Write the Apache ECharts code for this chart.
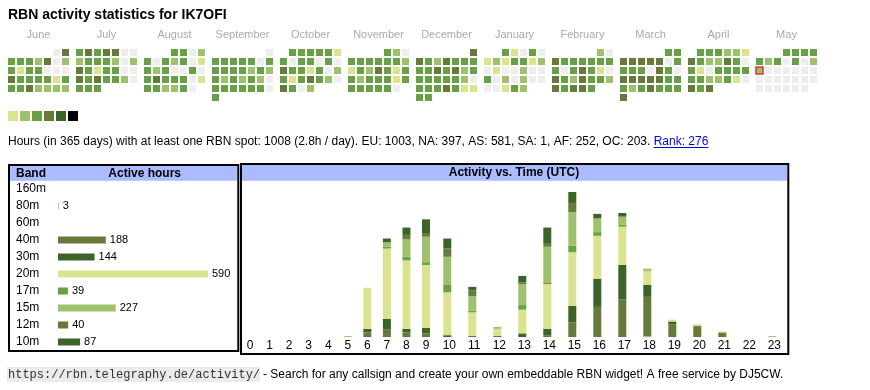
<!DOCTYPE html>
<html><head><meta charset="utf-8">
<script src="https://cdn.jsdelivr.net/npm/echarts@6/dist/echarts.min.js"></script>
<style>html,body{margin:0;padding:0;background:#fff}#c{width:870px;height:390px}</style>
</head><body><div id="c"></div>
<script>
// ---------- DATA ----------
const titleText = 'RBN activity statistics for IK7OFI';
const statsText = 'Hours (in 365 days) with at least one RBN spot: 1008 (2.8h / day). EU: 1003, NA: 397, AS: 581, SA: 1, AF: 252, OC: 203. ';
const rankText = 'Rank: 276';
const footerUrl = 'https://rbn.telegraphy.de/activity/';
const footerText = '- Search for any callsign and create your own embeddable RBN widget! A free service by DJ5CW.';

const monthNames = ['June','July','August','September','October','November','December','January','February','March','April','May'];
const monthKeys = ['2024-06','2024-07','2024-08','2024-09','2024-10','2024-11','2024-12','2025-01','2025-02','2025-03','2025-04','2025-05'];
const today = '2025-05-12';
// activity level per day (0 = none, 1..5 = increasing)
const jun2024 = [0,4, 3,3,3,2,4,0,2, 3,1,3,3,0,0,0, 4,3,3,3,3,1,3, 3,3,4,2,2,2,2];
const jul2024 = [3,4,3,4,4,0,0, 2,3,3,3,2,0,2, 4,3,1,3,3,0,0, 4,3,4,3,3,2,0, 3,3,3];
const aug2024 = [3,3,0,2, 3,0,3,2,3,0,1, 3,2,3,0,0,3,0, 3,4,3,3,3,0,1, 3,3,2,2,3,0];
const sep2024 = [0, 3,3,3,3,3,0,3, 3,3,3,3,2,3,2, 3,2,3,2,3,2,0, 3,3,3,3,3,3,0, 3];
const oct2024 = [3,3,3,3,3,1, 3,0,3,3,0,3,0, 4,3,3,1,3,0,2, 3,1,3,4,3,2,0, 4,3,0,2];
const nov2024 = [3,2,0, 3,3,3,3,3,3,2, 1,3,2,4,3,1,3, 3,2,3,3,3,1,3, 3,3,3,3,3,0];
const dec2024 = [4, 4,3,2,4,3,3,3, 3,3,4,3,4,2,3, 3,3,3,3,3,2,0, 3,3,3,4,3,1,1, 3,3];
const jan2025 = [3,1,0,3,0, 1,2,1,3,3,1,2, 0,1,0,0,2,0,0, 3,0,2,0,2,0,0, 0,0,1,3,2];
const feb2025 = [2,0, 4,3,3,3,3,3,3, 3,0,3,4,3,1,0, 4,3,2,4,3,3,2, 4,3,4,4,3];
const mar2025 = [3,3, 4,4,4,4,4,0,3, 3,3,3,0,4,3,0, 4,4,4,4,4,3,3, 3,2,3,4,3,3,3, 4];
const apr2025 = [3,3,3,2,2,1, 4,3,2,2,4,3,0, 3,1,0,3,3,3,3, 3,3,2,2,3,1,0, 4,3,4];
const may2025 = [3,3,3,3, 3,2,3,0,3,0,2, 2,0,0,0,0,0,0, 0,0,0,0,0,0,0, 0,0,0,0,0,0];
const monthData = [jun2024,jul2024,aug2024,sep2024,oct2024,nov2024,dec2024,jan2025,feb2025,mar2025,apr2025,may2025];
const levelValues = [1,2,3,4,5,6];

const bands = ['160m','80m','60m','40m','30m','20m','17m','15m','12m','10m'];
const activeHours = [0,3,0,188,144,590,39,227,40,87];

const hours = ['0','1','2','3','4','5','6','7','8','9','10','11','12','13','14','15','16','17','18','19','20','21','22','23'];
//               0 1 2 3 4 5 6  7  8  9  10 11 12 13 14 15 16 17 18 19 20 21 22 23
const h160m = [0,0,0,0,0,0,0, 0, 0, 0, 0, 0, 0, 0, 0, 0, 0, 0, 0, 0, 0, 0, 0, 0];
const h80m  = [0,0,0,0,0,1,0, 0, 0, 0, 0, 0, 0, 0, 0, 0, 0, 0, 1, 0, 0, 0, 0, 1];
const h60m  = [0,0,0,0,0,0,0, 0, 0, 0, 0, 0, 0, 0, 0, 0, 0, 0, 0, 0, 0, 0, 0, 0];
const h40m  = [0,0,0,0,0,0,5, 8, 5, 4, 0, 0, 0, 0, 2,16,33,41,43,14,12, 5, 0, 0];
const h30m  = [0,0,0,0,0,0,4,12, 4, 6, 2, 1, 1, 4, 7,18,31,38,13, 3, 0, 0, 0, 0];
const h20m  = [0,0,0,0,0,0,45,77,75,69,47,26, 8,26,49,59,47,42,15, 2, 2, 1, 0, 0];
const h17m  = [0,0,0,0,0,0,0, 2, 4, 3, 8, 2, 0, 5, 2, 7, 4, 2, 0, 0, 0, 0, 0, 0];
const h15m  = [0,0,0,0,0,0,0, 5,19,28,31,16, 2,23,39,37,15, 9, 3, 0, 0, 0, 0, 0];
const h12m  = [0,0,0,0,0,0,0, 0, 5, 4, 9, 6, 0, 2, 4,10, 0, 0, 0, 0, 0, 0, 0, 0];
const h10m  = [0,0,0,0,0,0,0, 4, 8,15,11, 4, 0, 7,17,12, 5, 4, 0, 0, 0, 0, 0, 0];
const hourlyByBand = [h160m,h80m,h60m,h40m,h30m,h20m,h17m,h15m,h12m,h10m];

// ---------- STYLE ----------
const FONT = '"Liberation Sans", Arial, sans-serif';
const levelColors = ['#dce38d','#9dc26b','#66a146','#667a39','#3b6528','#000000'];
const bandColors = ['#dce38d','#9dc26b','#66a146','#667a39','#3b6528','#dce38d','#66a146','#9dc26b','#667a39','#3b6528'];
const headerBlue = '#aabbff';

const chart = echarts.init(document.getElementById('c'), null, {renderer:'canvas'});

const calendars = monthKeys.map((k,i)=>({
  orient:'vertical', range:k, left:7+68*i, top:48, cellSize:[9,9],
  dayLabel:{show:false, firstDay:1}, monthLabel:{show:false}, yearLabel:{show:false},
  splitLine:{show:false}, itemStyle:{color:'rgba(0,0,0,0)', borderWidth:0, borderColor:'rgba(0,0,0,0)'}, silent:true
}));

const series = [];
const heatIdx = [];
monthData.forEach((arr,i)=>{
  heatIdx.push(series.length);
  series.push({type:'heatmap', coordinateSystem:'calendar', calendarIndex:i, silent:true,
    itemStyle:{borderColor:'#ffffff', borderWidth:2},
    data: arr.map((v,d)=>[monthKeys[i]+'-'+String(d+1).padStart(2,'0'), v])});
});
series.push({type:'scatter', coordinateSystem:'calendar', calendarIndex:11, silent:true, z:5,
  symbol:'rect', symbolSize:7, data:[[today,1]],
  itemStyle:{color:'rgba(0,0,0,0)', borderColor:'#e01010', borderWidth:1.5}});

// band table bars
series.push({type:'bar', xAxisIndex:0, yAxisIndex:0, silent:true, barWidth:7,
  data: activeHours.map((v,i)=>({value:v, itemStyle:{color:bandColors[i]}})),
  label:{show:true, position:'right', distance:4, fontSize:11, fontFamily:FONT, color:'#000',
    formatter:p=>p.value ? String(p.value) : ''}});

// activity stacked bars, split into two column-width groups
const totals = hours.map((_,h)=>hourlyByBand.reduce((s,a)=>s+a[h],0));
const yMax = Math.max(...totals);
hourlyByBand.forEach((arr,b)=>{
  series.push({type:'bar', name:bands[b], stack:'a', xAxisIndex:1, yAxisIndex:1, barWidth:8, silent:true,
    itemStyle:{color:bandColors[b]}, data:arr.slice(0,10)});
  series.push({type:'bar', name:bands[b], stack:'b', xAxisIndex:2, yAxisIndex:2, barWidth:8, silent:true,
    itemStyle:{color:bandColors[b]}, data:arr.slice(10)});
});

// text measurement for link placement
const cv = document.createElement('canvas').getContext('2d');
cv.font = '12px ' + FONT;
const statsW = cv.measureText(statsText).width;
const rankW = cv.measureText(rankText).width;

const graphics = [
  {type:'text', x:8, y:15, style:{text:titleText, fontSize:14, fontWeight:'bold', fontFamily:FONT, fill:'#000', align:'left', verticalAlign:'middle'}},
  {type:'text', x:8, y:142, style:{text:statsText, fontSize:12, fontFamily:FONT, fill:'#000', align:'left', verticalAlign:'middle'}},
  {type:'text', x:8+statsW, y:142, style:{text:rankText, fontSize:12, fontFamily:FONT, fill:'#0000ee', align:'left', verticalAlign:'middle'}},
  {type:'line', shape:{x1:8+statsW, y1:147.5, x2:8+statsW+rankW, y2:147.5}, style:{stroke:'#0000ee', lineWidth:1}},
  // band box
  {type:'rect', shape:{x:10, y:166, width:227.3, height:14.7}, style:{fill:headerBlue}, z:1},
  {type:'text', x:16, y:173.3, style:{text:'Band', fontSize:12, fontWeight:'bold', fontFamily:FONT, fill:'#000', verticalAlign:'middle'}, z:2},
  {type:'text', x:144.7, y:173.3, style:{text:'Active hours', fontSize:12, fontWeight:'bold', fontFamily:FONT, fill:'#000', align:'center', verticalAlign:'middle'}, z:2},
  {type:'rect', shape:{x:9, y:165, width:229.3, height:186}, style:{fill:null, stroke:'#000', lineWidth:2}, z:3},
  // activity box
  {type:'rect', shape:{x:242, y:165, width:545.3, height:15.7}, style:{fill:headerBlue}, z:1},
  {type:'text', x:514, y:173, style:{text:'Activity vs. Time (UTC)', fontSize:12, fontWeight:'bold', fontFamily:FONT, fill:'#000', align:'center', verticalAlign:'middle'}, z:2},
  {type:'rect', shape:{x:241, y:164, width:547.3, height:190}, style:{fill:null, stroke:'#000', lineWidth:2}, z:3},
  // footer
  {type:'rect', shape:{x:7, y:367, width:253, height:15}, style:{fill:'#ebebeb'}},
  {type:'text', x:8, y:374.5, style:{text:footerUrl, fontSize:12, fontFamily:'"Liberation Mono", monospace', fill:'#333', verticalAlign:'middle'}, z:2},
  {type:'text', x:263, y:374.5, style:{text:footerText, fontSize:12, fontFamily:FONT, fill:'#000', verticalAlign:'middle'}, z:2}
];
monthNames.forEach((m,i)=>{
  graphics.push({type:'text', x:7+68*i+31.5, y:35, style:{text:m, fontSize:11, fontFamily:FONT, fill:'#aaaaaa', align:'center', verticalAlign:'middle'}});
});

const catAxisCommon = {type:'category', axisLine:{show:false}, axisTick:{show:false}, splitLine:{show:false}};
chart.setOption({
  animation:false,
  textStyle:{fontFamily:FONT},
  calendar: calendars,
  visualMap: {type:'piecewise', seriesIndex:heatIdx, orient:'horizontal', left:8, top:111, padding:0,
    itemWidth:10, itemHeight:10, itemGap:2, showLabel:false, itemSymbol:'rect', selectedMode:false,
    pieces: levelValues.map((v,i)=>({value:v, color:levelColors[i]})), outOfRange:{color:'#eeeeee'}},
  grid: [
    {left:58, top:180.5, width:150, height:170},
    {left:240.2, top:192, width:195.6, height:145},
    {left:434.8, top:192, width:350, height:145}
  ],
  xAxis: [
    {gridIndex:0, type:'value', min:0, max:Math.max(...activeHours), show:false},
    Object.assign({gridIndex:1, data:hours.slice(0,10), axisLabel:{margin:3, fontSize:12, color:'#000', fontFamily:FONT, interval:0}}, catAxisCommon),
    Object.assign({gridIndex:2, data:hours.slice(10), axisLabel:{margin:3, fontSize:12, color:'#000', fontFamily:FONT, interval:0, padding:[0,0,0,4]}}, catAxisCommon)
  ],
  yAxis: [
    Object.assign({gridIndex:0, data:bands, inverse:true, axisLabel:{align:'left', margin:42, fontSize:12, color:'#000', fontFamily:FONT}}, catAxisCommon),
    {gridIndex:1, type:'value', min:0, max:yMax, show:false},
    {gridIndex:2, type:'value', min:0, max:yMax, show:false}
  ],
  series: series,
  graphic: graphics
});
</script></body></html>
